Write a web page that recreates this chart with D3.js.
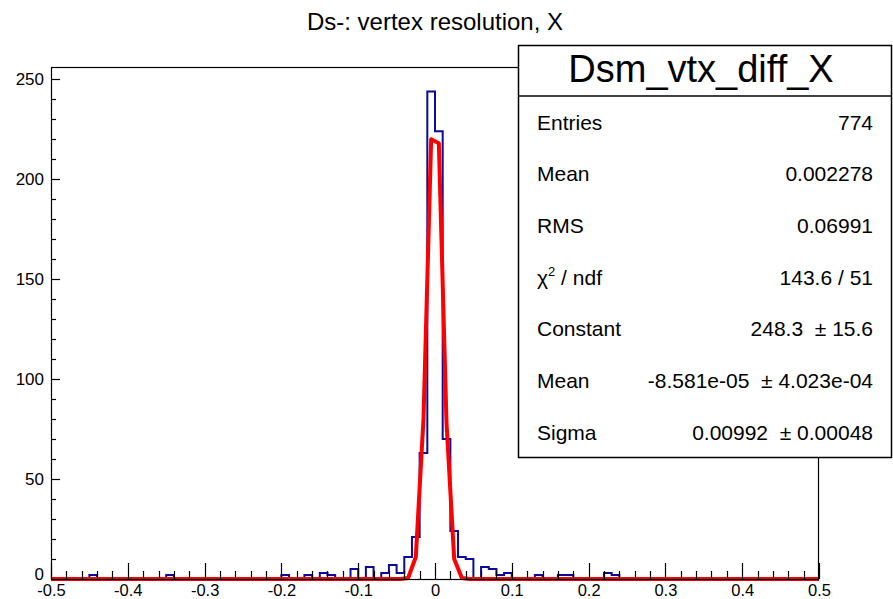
<!DOCTYPE html>
<html><head><meta charset="utf-8">
<script src="https://cdn.jsdelivr.net/npm/d3@7"></script>
<style>
body{margin:0;background:#fff}
svg{display:block}
text{font-family:"Liberation Sans",Arial,Helvetica,sans-serif;fill:#000}
</style>
</head><body>
<svg id="c" width="893" height="599"></svg>
<script>
// ---- data ----
const xDomain = [-0.5, 0.5];
const binWidth = 0.01;
// histogram counts, 100 bins from -0.5 to 0.5
const counts = [
  0,0,0,0,0,2,0,0,0,0,        // -0.50 .. -0.41
  0,0,0,0,0,2,0,0,0,0,        // -0.40 .. -0.31
  0,0,0,0,0,0,0,0,0,0,        // -0.30 .. -0.21
  2,0,0,2,0,3,2,0,0,5,        // -0.20 .. -0.11
  0,6,0,3,7,3,11,21,63,244,   // -0.10 .. -0.01
  224,70,24,11,10,0,6,5,2,3,  //  0.00 ..  0.09
  0,0,0,2,0,0,2,2,0,0,        //  0.10 ..  0.19
  0,0,3,2,0,0,0,0,0,0,        //  0.20 ..  0.29
  0,0,0,0,0,0,0,0,0,0,        //  0.30 ..  0.39
  0,0,0,0,0,0,0,0,0,0         //  0.40 ..  0.49
];
// fitted gaussian as drawn (polyline points)
const fitX = [-0.5, -0.045, -0.035, -0.025, -0.015, -0.005, 0.005, 0.015, 0.025, 0.035, 0.045, 0.5];
const fitY = [0, 0, 0.5, 11, 80, 220, 218, 78, 10, 0.5, 0, 0];
const xTicks = [-0.5,-0.4,-0.3,-0.2,-0.1,0,0.1,0.2,0.3,0.4,0.5];
const xTickLabels = ["-0.5","-0.4","-0.3","-0.2","-0.1","0","0.1","0.2","0.3","0.4","0.5"];
const yTicks = [0,50,100,150,200,250];
const yMax = 256.2;
const title = "Ds-: vertex resolution, X";
const statsTitle = "Dsm_vtx_diff_X";
const statsLabels = ["Entries","Mean","RMS","χ2 / ndf","Constant","Mean","Sigma"];
const statsValues = ["774","0.002278","0.06991","143.6 / 51","248.3  ± 15.6","-8.581e-05  ± 4.023e-04","0.00992  ± 0.00048"];

// ---- drawing ----
const svg = d3.select("#c");
const L = 51, R = 819, T = 67, B = 579;
const x = d3.scaleLinear().domain(xDomain).range([L, R]);
const y = d3.scaleLinear().domain([0, yMax]).range([B, T]);

svg.append("rect").attr("width",893).attr("height",599).attr("fill","#fff");

// title
svg.append("text").attr("x", 435).attr("y", 30).attr("text-anchor","middle")
  .style("font-size","24px").text(title);

// histogram step path
const p = d3.path();
p.moveTo(x(xDomain[0]), y(0));
counts.forEach((c,i)=>{
  const lo = xDomain[0] + i*binWidth, hi = lo + binWidth;
  p.lineTo(x(lo), y(c)); p.lineTo(x(hi), y(c));
});
p.lineTo(x(xDomain[1]), y(0));
svg.append("path").attr("d", p.toString()).attr("fill","none")
  .attr("stroke","#0a0a9c").attr("stroke-width",2);

// fit line
const line = d3.line().x(d=>x(d[0])).y(d=>y(d[1]));
svg.append("path").attr("d", line(fitX.map((v,i)=>[v,fitY[i]])))
  .attr("fill","none").attr("stroke","#ff0000").attr("stroke-width",4)
  .attr("stroke-linejoin","round");

// frame
svg.append("rect").attr("x",L+0.5).attr("y",T+0.5).attr("width",R-L-1).attr("height",B-T)
  .attr("fill","none").attr("stroke","#000").attr("stroke-width",1.2);

// x axis
const xAxis = d3.axisBottom(x).tickValues(xTicks).tickFormat((d,i)=>xTickLabels[i]).tickSize(0).tickPadding(0);
const gx = svg.append("g").attr("transform",`translate(0,${B})`).call(xAxis);
gx.select(".domain").remove();
gx.selectAll("text").style("font-size","16.5px").attr("dy","0").attr("y",17);
// x tick marks (inside, pointing up)
const xMinor = d3.range(-0.5, 0.5001, 0.02);
svg.append("g").selectAll("line").data(xMinor).join("line")
  .attr("x1",d=>Math.round(x(d))+0.5).attr("x2",d=>Math.round(x(d))+0.5)
  .attr("y1",B).attr("y2",(d)=>{const k=Math.round(d*50);return B-(k%5===0?16:8);})
  .attr("stroke","#000").attr("stroke-width",1.2);

// y axis
const yAxis = d3.axisLeft(y).tickValues(yTicks).tickSize(0).tickPadding(7);
const gy = svg.append("g").attr("transform",`translate(${L},0)`).call(yAxis);
gy.select(".domain").remove();
gy.selectAll("text").style("font-size","17px").attr("dy",d=>d===0?"0.05em":"0.3em");
const yMinor = d3.range(0, 251, 10);
svg.append("g").selectAll("line").data(yMinor).join("line")
  .attr("x1",L).attr("x2",d=>L+(d%50===0?9:5))
  .attr("y1",d=>Math.round(y(d))+0.5).attr("y2",d=>Math.round(y(d))+0.5)
  .attr("stroke","#000").attr("stroke-width",1.2);

// stats box
const bx = 518.5, by = 45.5, bw = 373, bh = 412;
svg.append("rect").attr("x",bx).attr("y",by).attr("width",bw).attr("height",bh)
  .attr("fill","#fff").attr("stroke","#000").attr("stroke-width",1.5);
svg.append("line").attr("x1",bx).attr("x2",bx+bw).attr("y1",96).attr("y2",96)
  .attr("stroke","#000").attr("stroke-width",1.5);
svg.append("text").attr("x",701).attr("y",82).attr("text-anchor","middle")
  .style("font-size","38px").text(statsTitle);
const rowH = (by+bh-96)/statsLabels.length;
statsLabels.forEach((lab,i)=>{
  const cy = 96 + rowH*(i+0.5);
  const t = svg.append("text").attr("x",537).attr("y",cy+8).style("font-size","21px");
  if (lab.startsWith("χ2")) {
    t.text("χ");
    t.append("tspan").attr("dy",-9).style("font-size","13px").text("2");
    t.append("tspan").attr("dy",9).text(" / ndf");
  } else t.text(lab);
  svg.append("text").attr("x",873).attr("y",cy+8).attr("text-anchor","end")
    .style("font-size","21px").style("white-space","pre").text(statsValues[i]);
});
</script>
</body></html>
